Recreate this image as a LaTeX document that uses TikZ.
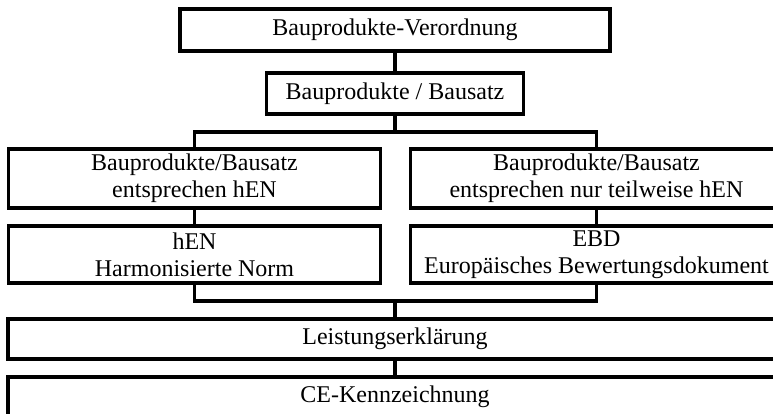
\documentclass[tikz,border=0pt]{standalone}
\usepackage{fontspec}
\setmainfont{Liberation Serif}
\usepackage{tikz}
\usetikzlibrary{positioning}

\begin{document}
\begin{tikzpicture}[
	  x=1pt, y=-1pt,
	  every node/.style = {shape=rectangle, draw, line width=3.5pt, align=center, inner sep=2pt, font=\fontsize{24}{27}\selectfont},
	  wide/.style={minimum width=774pt, minimum height=40pt},
	  half/.style={minimum width=372pt},
	  link/.style={draw, line width=3.5pt}
	]
	  \useasboundingbox (0,0) rectangle (773,414);
	  \clip (0,0) rectangle (773,414);

	  \node (vo) [minimum width=430pt, minimum height=42pt] at (395,30) {Bauprodukte-Verordnung};
	  \node (bs) [minimum width=257pt, minimum height=41pt] at (395,93.5) {Bauprodukte / Bausatz};
	  \node (l1) [half, minimum height=59pt] at (194.5,178.5) {Bauprodukte/Bausatz\\entsprechen hEN};
	  \node (r1) [half, minimum height=59pt] at (596.5,178.5) {Bauprodukte/Bausatz\\entsprechen nur teilweise hEN};
	  \node (l2) [half, minimum height=57pt] at (194.5,254.5) {hEN\\Harmonisierte Norm};
	  \node (r2) [half, minimum height=57pt] at (596.5,254.5) {EBD\\Europäisches Bewertungsdokument};
	  \node (le) [wide] at (395,339) {Leistungserklärung};
	  \node (ce) [wide] at (395,397) {CE-Kennzeichnung};

	  \coordinate (top) at (395,132);
	  \coordinate (bot) at (395,301);

	  \path[link] (vo) -- (bs);
	  \path[link] (bs) -- (top);
	  \path[link] (l1.north) |- (top) -| (r1.north);
	  \path[link] (l1) -- (l2);
	  \path[link] (r1) -- (r2);
	  \path[link] (l2.south) |- (bot) -| (r2.south);
	  \path[link] (bot) -- (le);
	  \path[link] (le) -- (ce);
\end{tikzpicture}
\end{document}
